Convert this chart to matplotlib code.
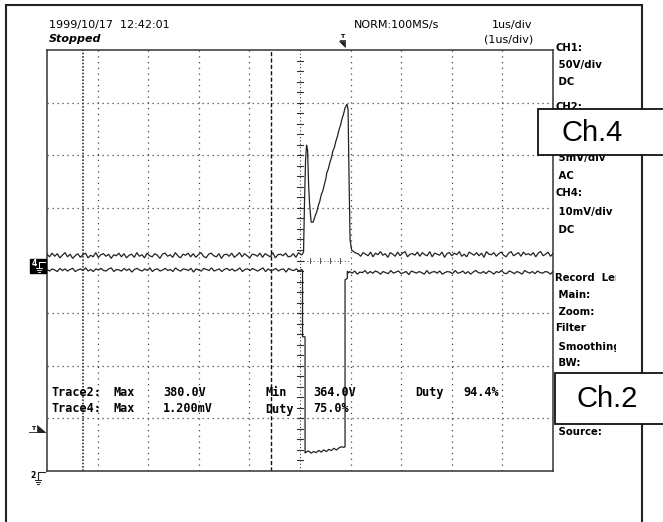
import matplotlib.pyplot as plt
import numpy as np
from matplotlib.patches import Rectangle, Polygon

W, H = 663, 522

# ---------------- data (time in us = div, level in div from grid bottom) ----------------
# Ch.4: spike, dip, ramp up to peak, fall back
ch4_pulse_t = [5.04, 5.07, 5.09, 5.11, 5.13, 5.15, 5.17, 5.19, 5.22, 5.26, 5.30, 5.33,
               5.36, 5.39, 5.42, 5.45, 5.48, 5.51, 5.53, 5.56, 5.59, 5.62, 5.65, 5.68,
               5.71, 5.74, 5.77, 5.80, 5.83, 5.86, 5.89, 5.93, 5.95, 5.97, 5.99, 6.02,
               6.07, 6.13]
ch4_pulse_v = [4.11, 4.16, 5.15, 5.91, 6.20, 6.10, 5.44, 5.06, 4.73, 4.73, 4.85, 4.92,
               5.04, 5.12, 5.25, 5.32, 5.44, 5.55, 5.67, 5.74, 5.86, 5.95, 6.08, 6.15,
               6.27, 6.36, 6.48, 6.57, 6.69, 6.78, 6.90, 6.97, 6.86, 5.53, 4.39, 4.20,
               4.16, 4.13]
ch4_left_level = 4.09
ch4_right_level = 4.11
ch4_left_noise = [3, -2, 5, -1, 4, -4, 1, 6, -2, 3, -5, 0, 4, -3, 2, 5, -4, 1, -2, 6,
                  -3, 2, 4, -1, 3, -5, 2, 0, 5, -2, 4, -4, 1, 3, -3, 6, -1, 2, -4, 5,
                  0, -2, 4, 1, -5, 3, 5, -1, 2, -3, 6, 0, -4, 3, 1, 5, -2, 4, -3, 2,
                  6, -1, -4, 3, 5, 0, -2, 4, -5, 2, 3, -1, 5, -3, 1, 6, -2, 4, 0, -4,
                  3, 2, -1, 5, -3, 4, 1, -2, 6, -4, 2, 3, 0, 5, -2, -1, 4, -3, 6, 2]
ch4_right_noise = [2, -3, 4, 1, -2, 5, -4, 3, 0, 6, -1, 2, -5, 4, 1, -3, 5, -2, 3, 6,
                   -4, 1, 2, -1, 5, -3, 4, 0, -2, 6, -4, 3, 1, -1, 5, -5, 2, 4, -2, 3,
                   0, 6, -3, 1, -4, 5, 2, -1, 4, -2, 3, -5, 6, 1, 0, 4, -3, 2, 5, -1,
                   -4, 3, 6, -2, 1, 4, -3, 5, 0, 2, -1, 4, -4, 3, 6, -2, 1, 5, -3, 2]

# Ch.2: negative-going rectangular pulse
ch2_fall_t = [5.04, 5.05, 5.05, 5.10, 5.10]
ch2_fall_v = [3.82, 3.82, 2.55, 2.55, 0.34]
ch2_low_t = [5.12, 5.17, 5.22, 5.27, 5.32, 5.37, 5.42, 5.47, 5.52, 5.57, 5.62, 5.67,
             5.72, 5.77, 5.82, 5.87]
ch2_low_v = [0.36, 0.38, 0.34, 0.37, 0.35, 0.39, 0.36, 0.40, 0.37, 0.41, 0.39, 0.43,
             0.40, 0.44, 0.46, 0.45]
ch2_rise_t = [5.89, 5.89, 5.935, 5.935, 5.96]
ch2_rise_v = [0.46, 3.63, 3.66, 3.80, 3.76]
ch2_left_level = 3.82
ch2_right_level = 3.77
ch2_left_noise = [1, -2, 2, 0, -3, 3, -1, 2, -2, 1, 3, -3, 0, 2, -1, 4, -2, 1, -3, 2,
                  0, 3, -1, -2, 2, 4, -3, 1, 0, -2, 3, -1, 2, -4, 1, 3, 0, -2, 2, -1,
                  4, -3, 1, 2, -2, 0, 3, -1, 1, -3, 4, 0, -2, 2, 1, -1, 3, -4, 2, 0,
                  -2, 3, 1, -1, 4, -2, 0, 2, -3, 1, 3, -1, 2, -2, 0, 4, -3, 1, 2, -1,
                  3, 0, -2, 1, 4, -3, 2, -1, 0, 3, -2, 1, 2, -4, 3, 0, -1, 2, -2, 1]
ch2_right_noise = [2, -1, 3, -3, 1, 0, 4, -2, 2, -1, 3, 1, -3, 2, 0, -2, 4, -1, 1, 3,
                   -2, 0, 2, -4, 3, 1, -1, 2, 0, -3, 4, -2, 1, 2, -1, 3, -3, 0, 2, 1,
                   -2, 4, -1, 0, 3, -2, 2, -3, 1, 4, 0, -1, 2, -2, 3, 1, -3, 2, 0, 4,
                   -1, -2, 3, 1, -2, 2, 0, -3, 4, 1, -1, 2, -2, 3, 0, -1, 2, 1, -3, 2]

cursor_a = 0.706
cursor_b = 4.43

header_left = ["1999/10/17  12:42:01", "Stopped"]
header_right = ["NORM:100MS/s", "1us/div", "(1us/div)"]
stats_row1 = ["Trace2:", "Max", "380.0V", "Min", "364.0V", "Duty", "94.4%"]
stats_row2 = ["Trace4:", "Max", "1.200mV", "Duty", "75.0%"]
panel_text = ["CH1:", " 50V/div", " DC", "CH2:", " 5mV/div", " AC", "CH4:",
              " 10mV/div", " DC", "Record  Length", " Main:", " Zoom:", "Filter",
              " Smoothing", " BW:", " Source:"]
panel_y = [48, 65, 82, 107, 158, 176, 193, 212, 230, 278, 295, 312, 328, 347, 363, 432]

INK = "#222222"


def px_box(x0, y0, x1, y1):
    return [x0 / W, 1 - y1 / H, (x1 - x0) / W, (y1 - y0) / H]


def trace(ax, t, v):
    ax.plot(t, v, color=INK, lw=0.9, solid_joinstyle="miter", zorder=4)


fig = plt.figure(figsize=(W / 100, H / 100), dpi=100)

# ---------------- scope screen ----------------
ax = fig.add_axes(px_box(47, 50, 553, 471), zorder=1)
ax.set_xlim(0, 10)
ax.set_ylim(0, 8)
ax.set_xticks([])
ax.set_yticks([])
for s in ax.spines.values():
    s.set_linewidth(1.1)
    s.set_color("#333333")

for i in range(1, 10):
    if i != 5:
        ax.axvline(i, color="#444444", lw=0.9, ls=(0, (1, 3.6)), zorder=1)
for j in range(1, 8):
    if j != 4:
        ax.axhline(j, color="#444444", lw=0.9, ls=(0, (1, 3.0)), zorder=1)

# centre axes with minor ticks (horizontal one only shows under the pulse)
ax.axvline(5, color="#444444", lw=0.8, ls=(0, (1, 2)), zorder=1)
for k in np.arange(0.2, 8, 0.2):
    ax.plot([4.95, 5.05], [k, k], color="#333333", lw=0.8, zorder=2)
ax.plot([5.0, 6.0], [4, 4], color="#555555", lw=0.7, ls=(0, (1, 2.5)), zorder=1)
for k in np.arange(5.2, 6.0, 0.2):
    ax.plot([k, k], [3.96, 4.04], color="#555555", lw=0.7, zorder=2)

# cursors
ax.axvline(cursor_a, color="#333333", lw=1.2, ls=(0, (1, 1)), zorder=2)
ax.axvline(cursor_b, color="#111111", lw=1.0, ls=(0, (3, 1.6)), zorder=2)

# Ch.4 trace
t = np.linspace(0, 5.02, len(ch4_left_noise))
trace(ax, np.r_[t, ch4_pulse_t, np.linspace(6.15, 10, len(ch4_right_noise))],
      np.r_[ch4_left_level + np.array(ch4_left_noise) * 0.01, ch4_pulse_v,
            ch4_right_level + np.array(ch4_right_noise) * 0.01])

# Ch.2 trace
t = np.linspace(0, 5.03, len(ch2_left_noise))
trace(ax, np.r_[t, ch2_fall_t, ch2_low_t, ch2_rise_t,
                np.linspace(5.98, 10, len(ch2_right_noise))],
      np.r_[ch2_left_level + np.array(ch2_left_noise) * 0.01, ch2_fall_v, ch2_low_v,
            ch2_rise_v, ch2_right_level + np.array(ch2_right_noise) * 0.01])

# ---------------- settings panel (clipped on the right) ----------------
pan = fig.add_axes(px_box(553, 40, 616, 471), zorder=2)
pan.set_xlim(553, 616)
pan.set_ylim(471, 40)
pan.axis("off")
for txt, y in zip(panel_text, panel_y):
    pan.text(555, y, txt, fontsize=7.3, fontweight="bold", family="DejaVu Sans",
             va="center", ha="left", clip_on=True)

# ---------------- overlay: frame, labels, markers ----------------
ov = fig.add_axes([0, 0, 1, 1], zorder=3)
ov.set_xlim(0, W)
ov.set_ylim(H, 0)
ov.axis("off")
ov.patch.set_alpha(0)

ov.plot([6, 6, 642, 642], [H + 5, 5, 5, H + 5], color=INK, lw=1.5,
        solid_joinstyle="miter", zorder=1)

hdr = dict(fontsize=8, family="DejaVu Sans", va="center")
ov.text(49, 25, header_left[0], **hdr)
ov.text(49, 39, header_left[1], fontsize=8, fontweight="bold", style="italic",
        family="DejaVu Sans", va="center")
ov.text(354, 25, header_right[0], **hdr)
ov.text(532, 25, header_right[1], ha="right", **hdr)
ov.text(533, 39, header_right[2], ha="right", **hdr)

# trigger marker (top)
ov.text(342, 36, "T", fontsize=4.5, fontweight="bold", ha="center", va="center")
ov.plot([339.5, 345], [39.5, 39.5], color=INK, lw=0.6)
ov.add_patch(Polygon([(339, 41), (345, 41), (345, 47)], closed=True, fc=INK, ec=INK, lw=0.5))

# trigger level marker (left)
ov.text(33, 428, "T", fontsize=4.5, fontweight="bold", ha="center", va="center")
ov.plot([29, 45], [432, 432], color=INK, lw=0.6)
ov.add_patch(Polygon([(37, 425), (37, 432), (45, 432)], closed=True, fc=INK, ec=INK, lw=0.5))

# Ch.4 ground marker
ov.add_patch(Rectangle((30, 259), 16, 14, fc="black", ec="black"))
ov.text(34.5, 263.5, "4", fontsize=5.5, fontweight="bold", color="white",
        ha="center", va="center")
ov.plot([39, 45, 39, 39], [262, 262, 262, 268], color="white", lw=0.7)
for yy, hw in [(268, 3), (270, 2), (272, 1)]:
    ov.plot([39 - hw, 39 + hw], [yy, yy], color="white", lw=0.6)

# Ch.2 ground marker
ov.text(33, 475, "2", fontsize=5.5, fontweight="bold", ha="center", va="center")
ov.plot([45, 38, 38], [472, 472, 479], color=INK, lw=0.8)
for yy, hw in [(479.5, 3.3), (481.5, 2.2), (483.5, 1)]:
    ov.plot([38 - hw, 38 + hw], [yy, yy], color=INK, lw=0.7)

# measurement read-out
mono = dict(fontsize=8.5, fontweight="bold", family="DejaVu Sans Mono", va="center")
for txt, x in zip(stats_row1, [52, 114, 163, 265, 313, 415, 463]):
    ov.text(x, 392.5, txt, **mono)
for txt, x in zip(stats_row2, [52, 114, 163, 265, 313]):
    ov.text(x, 409, txt, **mono)

# channel callout boxes
ov.add_patch(Rectangle((538, 109), 140, 46, fc="white", ec="#111111", lw=1.3, zorder=5))
ov.text(592, 133, "Ch.4", fontsize=21, family="Liberation Sans", ha="center",
        va="center", zorder=6)
ov.add_patch(Rectangle((555, 373), 120, 51, fc="white", ec="#111111", lw=1.3, zorder=5))
ov.text(607, 399, "Ch.2", fontsize=21, family="Liberation Sans", ha="center",
        va="center", zorder=6)

fig.savefig("out.png", dpi=100)
